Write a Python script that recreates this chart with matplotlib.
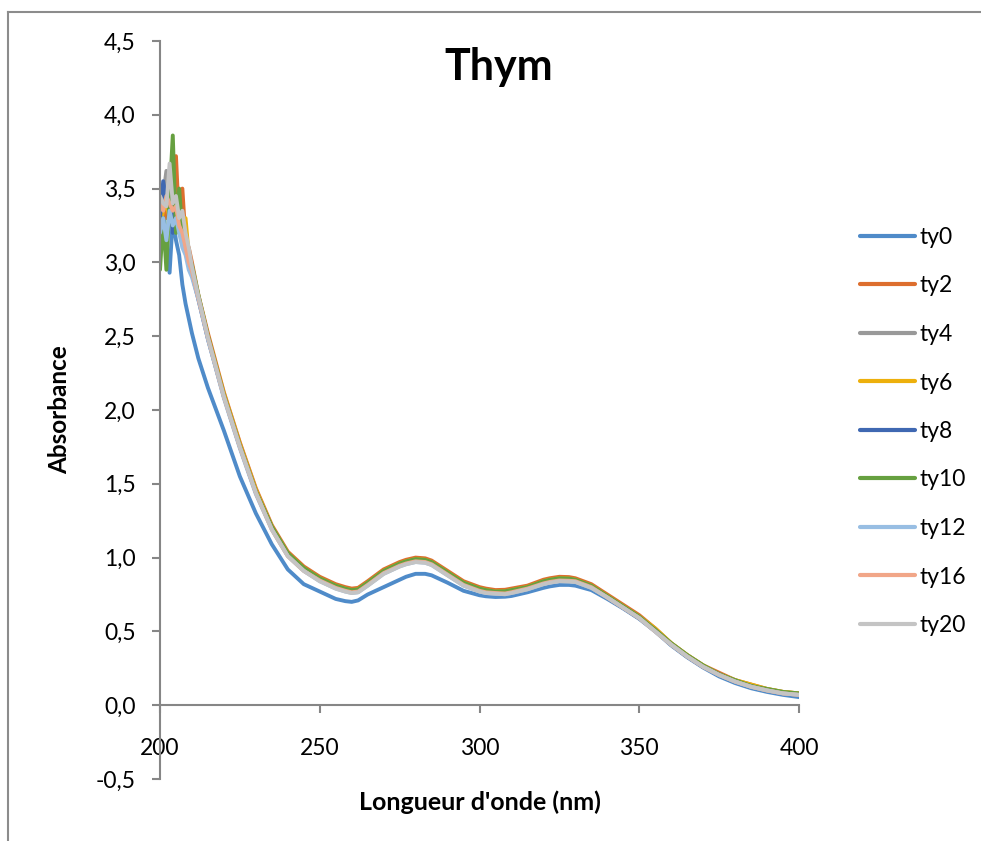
import matplotlib
matplotlib.use("Agg")
import matplotlib.pyplot as plt
from matplotlib.lines import Line2D
from matplotlib.ticker import FuncFormatter

plt.rcParams["font.family"] = ["Lato", "DejaVu Sans"]

# wavelength grid (nm)
wavelength = [200, 201, 202, 203, 204, 205, 206, 207, 208, 209, 210, 212, 215,
              220, 225, 230, 235, 240, 245, 250, 255, 258, 260, 262, 265, 270,
              275, 277, 280, 283, 285, 290, 295, 300, 302, 305, 308, 310, 315,
              320, 322, 325, 328, 330, 335, 340, 345, 350, 355, 360, 365, 370,
              375, 380, 385, 390, 395, 400]

ty0 = [3.05, 3.35, 3.10, 2.93, 3.30, 3.15, 3.05, 2.85, 2.72, 2.62, 2.52, 2.35, 2.15,
       1.86, 1.55, 1.30, 1.09, 0.92, 0.82, 0.77, 0.72, 0.705, 0.70, 0.71, 0.75, 0.80,
       0.85, 0.87, 0.89, 0.89, 0.88, 0.83, 0.775, 0.745, 0.738, 0.733, 0.735, 0.74, 0.765,
       0.795, 0.805, 0.815, 0.815, 0.81, 0.78, 0.72, 0.655, 0.585, 0.50, 0.405, 0.325, 0.255,
       0.195, 0.15, 0.115, 0.09, 0.07, 0.055]

ty2 = [3.20, 3.40, 3.30, 3.45, 3.35, 3.72, 3.25, 3.50, 3.15, 3.10, 3.00, 2.78, 2.52,
       2.12, 1.78, 1.47, 1.22, 1.04, 0.94, 0.87, 0.82, 0.80, 0.79, 0.795, 0.84, 0.92,
       0.97, 0.985, 1.00, 0.995, 0.98, 0.91, 0.84, 0.80, 0.79, 0.78, 0.782, 0.79, 0.81,
       0.85, 0.86, 0.87, 0.868, 0.86, 0.82, 0.75, 0.68, 0.61, 0.52, 0.42, 0.34, 0.27,
       0.22, 0.17, 0.14, 0.11, 0.09, 0.08]

ty4 = [3.35, 3.45, 3.62, 3.40, 3.30, 3.35, 3.20, 3.15, 3.10, 3.02, 2.95, 2.76, 2.49,
       2.09, 1.75, 1.44, 1.20, 1.02, 0.92, 0.85, 0.80, 0.78, 0.77, 0.775, 0.82, 0.90,
       0.95, 0.965, 0.98, 0.975, 0.96, 0.89, 0.82, 0.78, 0.77, 0.76, 0.762, 0.77, 0.79,
       0.83, 0.84, 0.85, 0.848, 0.84, 0.80, 0.73, 0.66, 0.59, 0.51, 0.41, 0.33, 0.26,
       0.21, 0.16, 0.13, 0.10, 0.08, 0.07]

ty6 = [3.25, 3.35, 3.40, 3.30, 3.45, 3.30, 3.35, 3.25, 3.30, 3.05, 2.97, 2.77, 2.50,
       2.11, 1.77, 1.46, 1.21, 1.03, 0.93, 0.86, 0.81, 0.79, 0.78, 0.785, 0.83, 0.91,
       0.96, 0.975, 0.99, 0.985, 0.97, 0.90, 0.83, 0.79, 0.78, 0.77, 0.772, 0.78, 0.80,
       0.84, 0.85, 0.86, 0.858, 0.85, 0.81, 0.74, 0.67, 0.60, 0.52, 0.42, 0.34, 0.27,
       0.21, 0.17, 0.14, 0.11, 0.09, 0.08]

ty8 = [3.30, 3.55, 3.40, 3.50, 3.20, 3.40, 3.25, 3.15, 3.10, 2.98, 2.92, 2.75, 2.48,
       2.09, 1.75, 1.44, 1.20, 1.02, 0.92, 0.85, 0.80, 0.78, 0.77, 0.775, 0.82, 0.90,
       0.95, 0.965, 0.98, 0.975, 0.96, 0.89, 0.82, 0.78, 0.77, 0.76, 0.762, 0.77, 0.79,
       0.83, 0.84, 0.85, 0.848, 0.84, 0.80, 0.73, 0.66, 0.59, 0.51, 0.41, 0.33, 0.26,
       0.21, 0.16, 0.13, 0.10, 0.08, 0.07]

ty10 = [2.95, 3.30, 2.95, 3.45, 3.86, 3.20, 3.50, 3.20, 3.10, 3.05, 2.98, 2.78, 2.50,
        2.10, 1.76, 1.45, 1.21, 1.03, 0.93, 0.86, 0.81, 0.79, 0.78, 0.785, 0.83, 0.91,
        0.96, 0.975, 0.99, 0.985, 0.97, 0.90, 0.83, 0.79, 0.78, 0.77, 0.772, 0.78, 0.80,
        0.84, 0.85, 0.86, 0.858, 0.85, 0.81, 0.74, 0.67, 0.60, 0.51, 0.42, 0.34, 0.27,
        0.21, 0.17, 0.13, 0.11, 0.09, 0.08]

ty12 = [3.20, 3.30, 3.15, 3.35, 3.25, 3.30, 3.20, 3.10, 3.05, 2.95, 2.90, 2.75, 2.48,
        2.08, 1.74, 1.43, 1.19, 1.01, 0.91, 0.84, 0.79, 0.77, 0.76, 0.765, 0.81, 0.89,
        0.94, 0.955, 0.97, 0.965, 0.95, 0.88, 0.81, 0.77, 0.76, 0.755, 0.752, 0.76, 0.785,
        0.82, 0.83, 0.84, 0.838, 0.835, 0.795, 0.73, 0.66, 0.59, 0.50, 0.41, 0.33, 0.26,
        0.205, 0.16, 0.125, 0.10, 0.08, 0.07]

ty16 = [3.40, 3.35, 3.45, 3.40, 3.35, 3.38, 3.25, 3.20, 3.10, 3.00, 2.94, 2.76, 2.49,
        2.09, 1.75, 1.44, 1.19, 1.01, 0.91, 0.845, 0.795, 0.775, 0.765, 0.77, 0.815, 0.895,
        0.945, 0.96, 0.975, 0.97, 0.955, 0.885, 0.815, 0.775, 0.765, 0.76, 0.757, 0.765, 0.79,
        0.825, 0.835, 0.845, 0.843, 0.84, 0.80, 0.73, 0.66, 0.59, 0.50, 0.41, 0.33, 0.26,
        0.205, 0.16, 0.125, 0.10, 0.08, 0.07]

ty20 = [3.45, 3.40, 3.38, 3.67, 3.40, 3.45, 3.30, 3.35, 3.20, 3.10, 2.97, 2.77, 2.49,
        2.09, 1.75, 1.44, 1.19, 1.01, 0.91, 0.84, 0.79, 0.77, 0.76, 0.765, 0.81, 0.89,
        0.94, 0.955, 0.97, 0.965, 0.95, 0.88, 0.81, 0.77, 0.76, 0.755, 0.752, 0.76, 0.785,
        0.82, 0.83, 0.84, 0.838, 0.835, 0.795, 0.73, 0.66, 0.59, 0.50, 0.41, 0.33, 0.26,
        0.205, 0.16, 0.125, 0.10, 0.08, 0.07]

labels = ["ty0", "ty2", "ty4", "ty6", "ty8", "ty10", "ty12", "ty16", "ty20"]
series = [ty0, ty2, ty4, ty6, ty8, ty10, ty12, ty16, ty20]
colors = ["#4F8BC9", "#DD6E2E", "#999999", "#EDB00C", "#3F68B2",
          "#66A040", "#98BEE3", "#F1A688", "#C4C4C4"]

y_ticks = [-0.5, 0.0, 0.5, 1.0, 1.5, 2.0, 2.5, 3.0, 3.5, 4.0, 4.5]
x_ticks = [200, 250, 300, 350, 400]

axis_grey = "#868686"

fig = plt.figure(figsize=(9.81, 8.41), dpi=100)
fig.patch.set_facecolor("white")

# chart area border: left and top edges
border_x = 8 / 981
border_y = 1 - 12 / 841
fig.lines.append(Line2D([border_x, border_x], [-0.05, border_y], transform=fig.transFigure,
                        color="#8C8C8C", linewidth=1.5))
fig.lines.append(Line2D([border_x, 1.05], [border_y, border_y], transform=fig.transFigure,
                        color="#8C8C8C", linewidth=1.5))

ax = fig.add_axes([160 / 981, 1 - 779 / 841, 639 / 981, 738 / 841])

for vals, lab, col in zip(series, labels, colors):
    ax.plot(wavelength, vals, color=col, linewidth=2.8, label=lab,
            solid_capstyle="round", solid_joinstyle="round")

ax.set_xlim(200, 400)
ax.set_ylim(-0.5, 4.5)
ax.set_xticks(x_ticks)
ax.set_yticks(y_ticks)
ax.yaxis.set_major_formatter(FuncFormatter(lambda v, p: f"{v:.1f}".replace(".", ",")))

ax.spines["top"].set_visible(False)
ax.spines["right"].set_visible(False)
ax.spines["bottom"].set_position(("data", 0))
for side in ("left", "bottom"):
    ax.spines[side].set_color(axis_grey)
    ax.spines[side].set_linewidth(1.5)

ax.tick_params(axis="both", direction="out", color=axis_grey, width=1.5,
               length=5.5, labelsize=16.5, labelcolor="black")
ax.tick_params(axis="y", pad=12)
ax.tick_params(axis="x", pad=18)

fig.text(499 / 981, 1 - 80 / 841, "Thym", ha="center", va="baseline",
         fontsize=31, fontweight="bold")
fig.text(60 / 981, 1 - 410 / 841, "Absorbance", rotation=90, ha="center",
         va="center", fontsize=17.5, fontweight="bold")
fig.text(480 / 981, 1 - 802 / 841, "Longueur d'onde (nm)", ha="center",
         va="center", fontsize=18, fontweight="bold")

leg = ax.legend(loc="upper left", bbox_to_anchor=(860 / 981, 1 - 227 / 841),
                bbox_transform=fig.transFigure, frameon=False, fontsize=16.5,
                handlelength=2.4, handletextpad=0.18, labelspacing=1.2,
                borderpad=0, borderaxespad=0)
for line in leg.get_lines():
    line.set_linewidth(3)

fig.savefig("out.png", dpi=100, facecolor="white")
